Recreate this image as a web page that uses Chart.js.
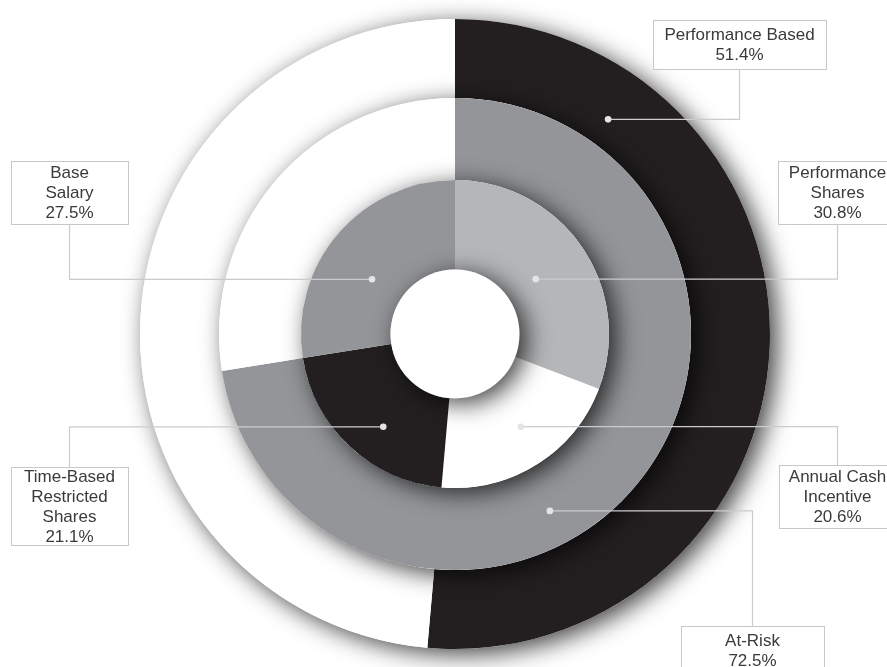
<!DOCTYPE html>
<html>
<head>
<meta charset="utf-8">
<style>
  html, body { margin: 0; padding: 0; background: #fff; }
  #wrap { width: 887px; height: 667px; }
</style>
<script src="https://cdn.jsdelivr.net/npm/chart.js@4.4.1/dist/chart.umd.min.js"></script>
</head>
<body>
<div id="wrap"><canvas id="rings" width="887" height="667"></canvas></div>
<script>
// Data (percent of total pay)
const outerLabels = [['Performance Based'], ['Not Performance Based']];
const outerValues = [51.4, 48.6];
const middleLabels = [['At-Risk'], ['Fixed']];
const middleValues = [72.5, 27.5];
const innerLabels = [['Performance', 'Shares'], ['Annual Cash', 'Incentive'], ['Time-Based', 'Restricted', 'Shares'], ['Base', 'Salary']];
const innerValues = [30.8, 20.6, 21.1, 27.5];

const BLACK = '#231f20';
const GRAY = '#939598';
const LIGHT = '#b4b6b8';
const WHITE = '#ffffff';

// Callout layout: which ring/slice, where the dot sits (angle from 12 o'clock, depth in ring), and the box
const callouts = [
  { ring: 0, slice: 0, angle: 35.5, depth: 0.35, box: { x: 653, y: 20, w: 173, h: 49 } },
  { ring: 2, slice: 0, angle: 55.8, depth: 0.37, box: { x: 778, y: 161, w: 119, h: 63 } },
  { ring: 2, slice: 3, angle: 303.4, depth: 0.39, box: { x: 11, y: 161, w: 117, h: 63 } },
  { ring: 2, slice: 2, angle: 217.7, depth: 0.59, box: { x: 11, y: 467, w: 117, h: 78 } },
  { ring: 2, slice: 1, angle: 144.6, depth: 0.55, box: { x: 779, y: 465, w: 117, h: 63 } },
  { ring: 1, slice: 0, angle: 151.8, depth: 0.57, box: { x: 681, y: 626, w: 143, h: 49 } }
];
const ringLabels = [outerLabels, middleLabels, innerLabels];
const ringValues = [outerValues, middleValues, innerValues];

function setShadow(ctx) {
  ctx.shadowColor = 'rgba(0,0,0,0.75)';
  ctx.shadowBlur = 24;
  ctx.shadowOffsetX = 7;
  ctx.shadowOffsetY = 5;
}

// Each ring sits on a white disk that throws a soft shadow, like stacked paper
const stackedShadow = {
  id: 'stackedShadow',
  beforeDraw(chart) {
    const ctx = chart.ctx;
    ctx.save();
    ctx.fillStyle = '#fff';
    ctx.fillRect(0, 0, chart.width, chart.height);
    ctx.restore();
  },
  beforeDatasetDraw(chart, args) {
    const arc = args.meta.data[0];
    const p = arc.getProps(['x', 'y', 'outerRadius'], true);
    const ctx = chart.ctx;
    ctx.save();
    setShadow(ctx);
    ctx.beginPath();
    ctx.arc(p.x, p.y, p.outerRadius, 0, Math.PI * 2);
    ctx.fillStyle = '#fff';
    ctx.fill();
    ctx.restore();
  },
  afterDatasetsDraw(chart) {
    // the white hole in the middle also throws a shadow on the inner ring
    const arc = chart.getDatasetMeta(2).data[0];
    const p = arc.getProps(['x', 'y', 'innerRadius'], true);
    const ctx = chart.ctx;
    ctx.save();
    setShadow(ctx);
    ctx.beginPath();
    ctx.arc(p.x, p.y, p.innerRadius, 0, Math.PI * 2);
    ctx.fillStyle = '#fff';
    ctx.fill();
    ctx.restore();
  }
};

const calloutPlugin = {
  id: 'callouts',
  afterDraw(chart) {
    const ctx = chart.ctx;
    ctx.save();
    callouts.forEach(function (c) {
      const arc = chart.getDatasetMeta(c.ring).data[c.slice];
      const p = arc.getProps(['x', 'y', 'innerRadius', 'outerRadius'], true);
      const r = p.innerRadius + c.depth * (p.outerRadius - p.innerRadius);
      const a = c.angle * Math.PI / 180;
      const dx = p.x + r * Math.sin(a);
      const dy = p.y - r * Math.cos(a);
      const b = c.box;
      const cx = b.x + b.w / 2;
      const edgeY = dy < b.y ? b.y : b.y + b.h;

      // connector
      ctx.strokeStyle = '#cbcbcb';
      ctx.lineWidth = 1.2;
      ctx.beginPath();
      ctx.moveTo(dx, dy);
      ctx.lineTo(cx, dy);
      ctx.lineTo(cx, edgeY);
      ctx.stroke();

      // dot
      ctx.fillStyle = '#e4e4e4';
      ctx.beginPath();
      ctx.arc(dx, dy, 3.3, 0, Math.PI * 2);
      ctx.fill();

      // box
      ctx.fillStyle = '#fff';
      ctx.fillRect(b.x, b.y, b.w, b.h);
      ctx.strokeStyle = '#c8c8c8';
      ctx.lineWidth = 1;
      ctx.strokeRect(b.x + 0.5, b.y + 0.5, b.w, b.h);

      // text
      const lines = ringLabels[c.ring][c.slice].concat([ringValues[c.ring][c.slice].toFixed(1) + '%']);
      const lineH = 20;
      const top = b.y + b.h / 2 - (lines.length * lineH) / 2;
      ctx.fillStyle = '#3a3a3a';
      ctx.font = '17px "Liberation Sans", Arial, sans-serif';
      ctx.textAlign = 'center';
      ctx.textBaseline = 'middle';
      lines.forEach(function (t, i) {
        ctx.fillText(t, cx, top + lineH * (i + 0.5) + 1);
      });
    });
    ctx.restore();
  }
};

new Chart(document.getElementById('rings').getContext('2d'), {
  type: 'doughnut',
  data: {
    labels: innerLabels.map(l => l.join(' ')),
    datasets: [
      { data: outerValues, backgroundColor: [BLACK, WHITE], weight: 79, order: 2 },
      { data: middleValues, backgroundColor: [GRAY, WHITE], weight: 82, order: 1 },
      { data: innerValues, backgroundColor: [LIGHT, WHITE, BLACK, GRAY], weight: 89.5, order: 0 }
    ]
  },
  options: {
    responsive: false,
    animation: false,
    events: [],
    cutout: 64.5,
    radius: 315,
    layout: { padding: { left: 140, right: 117, top: 19, bottom: 18 } },
    elements: { arc: { borderWidth: 0 } },
    plugins: {
      legend: { display: false },
      tooltip: { enabled: false }
    }
  },
  plugins: [stackedShadow, calloutPlugin]
});
</script>
</body>
</html>
